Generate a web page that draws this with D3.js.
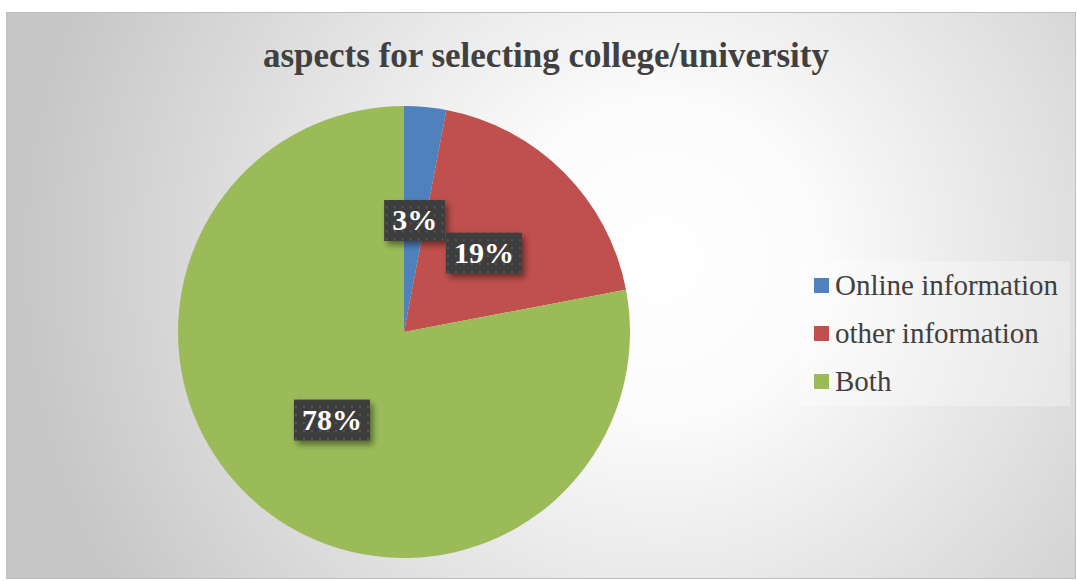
<!DOCTYPE html>
<html>
<head>
<meta charset="utf-8">
<script src="https://cdn.jsdelivr.net/npm/d3@7"></script>
<style>
  html, body { margin: 0; padding: 0; background: #ffffff; }
  svg { display: block; }
</style>
</head>
<body>
<svg id="chart" width="1077" height="581"></svg>
<script>
// Data
const categories = ["Online information", "other information", "Both"];
const values = [3, 19, 78];
const colors = ["#4f81bd", "#c0504d", "#9bbb59"];
const titleText = "aspects for selecting college/university";

const W = 1077, H = 581;
const serif = "'Liberation Serif', 'Times New Roman', serif";
const svg = d3.select("#chart");
const defs = svg.append("defs");

// Background gradient of the chart area
const bg = defs.append("radialGradient").attr("id", "bgGrad")
  .attr("gradientUnits", "userSpaceOnUse")
  .attr("cx", 660).attr("cy", 260).attr("r", 640);
bg.append("stop").attr("offset", "0%").attr("stop-color", "#ffffff");
bg.append("stop").attr("offset", "25%").attr("stop-color", "#fbfbfb");
bg.append("stop").attr("offset", "100%").attr("stop-color", "#c6c6c6");

// Dotted texture for the label boxes
const pat = defs.append("pattern").attr("id", "dots")
  .attr("patternUnits", "userSpaceOnUse").attr("width", 8).attr("height", 8);
pat.append("rect").attr("width", 8).attr("height", 8).attr("fill", "#3e3e3e");
pat.append("rect").attr("x", 3).attr("y", 3).attr("width", 2).attr("height", 2).attr("fill", "#555555");

// Soft shadow under the label boxes
const sh = defs.append("filter").attr("id", "shadow")
  .attr("x", "-20%").attr("y", "-20%").attr("width", "150%").attr("height", "160%");
sh.append("feDropShadow").attr("dx", 3).attr("dy", 4).attr("stdDeviation", 3)
  .attr("flood-color", "#000").attr("flood-opacity", 0.45);

// Chart area
const area = { x: 6, y: 12, w: 1070, h: 567 };
svg.append("rect")
  .attr("x", area.x + 0.5).attr("y", area.y + 0.5)
  .attr("width", area.w - 1).attr("height", area.h - 1)
  .attr("fill", "url(#bgGrad)")
  .attr("stroke", "#bdbdbd").attr("stroke-width", 1);

// Title
svg.append("text")
  .attr("x", 546).attr("y", 67)
  .attr("text-anchor", "middle")
  .attr("font-family", serif)
  .attr("font-weight", "bold")
  .attr("font-size", 35)
  .attr("fill", "#404040")
  .text(titleText);

// Pie
const cx = 404, cy = 332, R = 226;
const pie = d3.pie().sort(null).value(d => d);
const arcs = pie(values);
const arc = d3.arc().innerRadius(0).outerRadius(R);
const labelArc = d3.arc().innerRadius(R / 2).outerRadius(R / 2);

const g = svg.append("g").attr("transform", `translate(${cx},${cy})`);
g.selectAll("path.slice").data(arcs).enter().append("path")
  .attr("class", "slice")
  .attr("d", arc)
  .attr("fill", (d, i) => colors[i]);

// Data labels
const lbl = g.selectAll("g.lbl").data(arcs).enter().append("g")
  .attr("class", "lbl")
  .attr("transform", d => {
    const c = labelArc.centroid(d);
    return `translate(${c[0]},${c[1]})`;
  });
lbl.each(function (d) {
  const sel = d3.select(this);
  const t = sel.append("text")
    .attr("text-anchor", "middle")
    .attr("dy", "0.35em")
    .attr("font-family", serif)
    .attr("font-weight", "bold")
    .attr("font-size", 30)
    .attr("fill", "#ffffff")
    .text(d.data + "%");
  const bb = t.node().getBBox();
  const padX = 8, padY = 4;
  sel.insert("rect", "text")
    .attr("x", bb.x - padX).attr("y", bb.y - padY + 1)
    .attr("width", bb.width + 2 * padX).attr("height", bb.height + 2 * padY)
    .attr("fill", "url(#dots)")
    .attr("filter", "url(#shadow)");
});

// Legend
const legend = svg.append("g").attr("transform", "translate(799,261)");
legend.append("rect")
  .attr("width", 271).attr("height", 145)
  .attr("fill", "#ffffff").attr("fill-opacity", 0.3);
const rows = legend.selectAll("g.row").data(categories).enter().append("g")
  .attr("class", "row")
  .attr("transform", (d, i) => `translate(15,${24.5 + i * 48})`);
rows.append("rect")
  .attr("x", 0).attr("y", -7.5).attr("width", 15).attr("height", 15)
  .attr("fill", (d, i) => colors[i]);
rows.append("text")
  .attr("x", 21).attr("y", 9.5)
  .attr("font-family", serif)
  .attr("font-size", 29)
  .attr("fill", "#404040")
  .text(d => d);
</script>
</body>
</html>
